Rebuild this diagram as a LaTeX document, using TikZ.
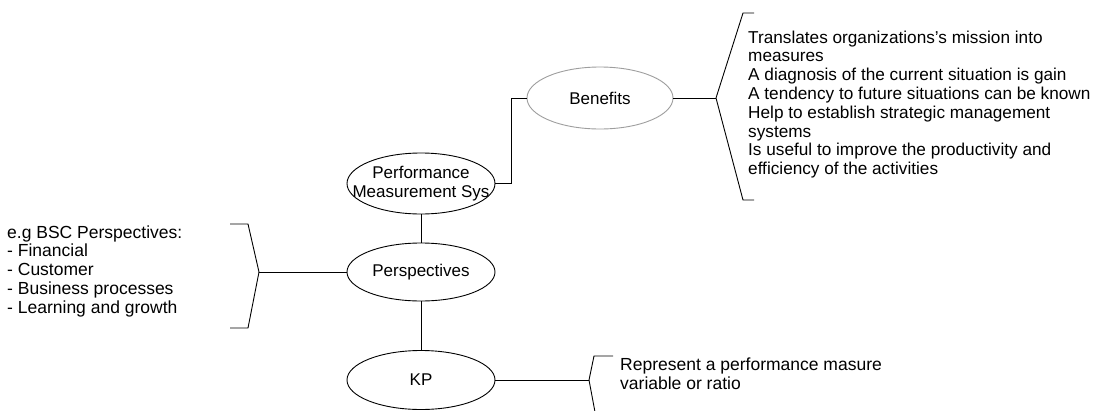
\documentclass[tikz,border=0pt]{standalone}
\usepackage{fontspec}
\setmainfont{Liberation Sans}
\usetikzlibrary{shapes.geometric}
\begin{document}
\begin{tikzpicture}[x=1pt,y=-1pt,
  every node/.style={font=\fontsize{17}{19}\selectfont},
  ell/.style={ellipse,draw=black,line width=0.9pt,minimum width=148pt,inner sep=0pt},
  txt/.style={align=left,inner sep=0pt,anchor=north west,font=\fontsize{17.5}{18.7}\selectfont},
  conn/.style={draw=black,line width=0.9pt}]
\useasboundingbox[fill=white] (0,0) rectangle (1097,410);
% ellipses
\node[ell,draw=black!38,minimum width=146pt,minimum height=62pt,label={center:Benefits}] (bene) at (600,98) {};
\node[ell,minimum height=61pt,label={[align=center]center:Performance\\Measurement Sys}] (pms) at (421,183.5) {};
\node[ell,minimum height=58pt,label={center:Perspectives}] (persp) at (421,272) {};
\node[ell,minimum height=59pt,label={center:KP}] (kp) at (421,380) {};
% texts
\node[txt,font=\fontsize{17.2}{18.8}\selectfont] (btxt) at (748,30.4) {Translates organizations's mission into\\measures\\A diagnosis of the current situation is gain\\A tendency to future situations can be known\\Help to establish strategic management\\systems\\Is useful to improve the productivity and\\efficiency of the activities};
\node[txt] (ptxt) at (7,225.4) {e.g BSC Perspectives:\\- Financial\\- Customer\\- Business processes\\- Learning and growth};
\node[txt] (ktxt) at (620,358) {Represent a performance masure\\variable or ratio};
% bracket apexes
\coordinate (bapex) at (716,98);
\coordinate (papex) at (259,272);
\coordinate (kapex) at (589,380);
% connectors
\draw[conn] (pms.east) -- ++(16,0) |- (bene.west);
\draw[conn] (pms.south) -- (persp.north);
\draw[conn] (persp.south) -- (kp.north);
\draw[conn] (bene.east) -- (bapex);
\draw[conn] (persp.west) -- (papex);
\draw[conn] (kp.east) -- (kapex);
% brackets
\draw[conn] (754,13) -- (743,13) -- (bapex) -- (743,200) -- (754,200);
\draw[conn] (230,224) -- (248,224) -- (papex) -- (248,328) -- (230,328);
\draw[conn] (613,356) -- (594,356) -- (kapex) -- (595,412) -- (613,412);
\end{tikzpicture}
\end{document}
